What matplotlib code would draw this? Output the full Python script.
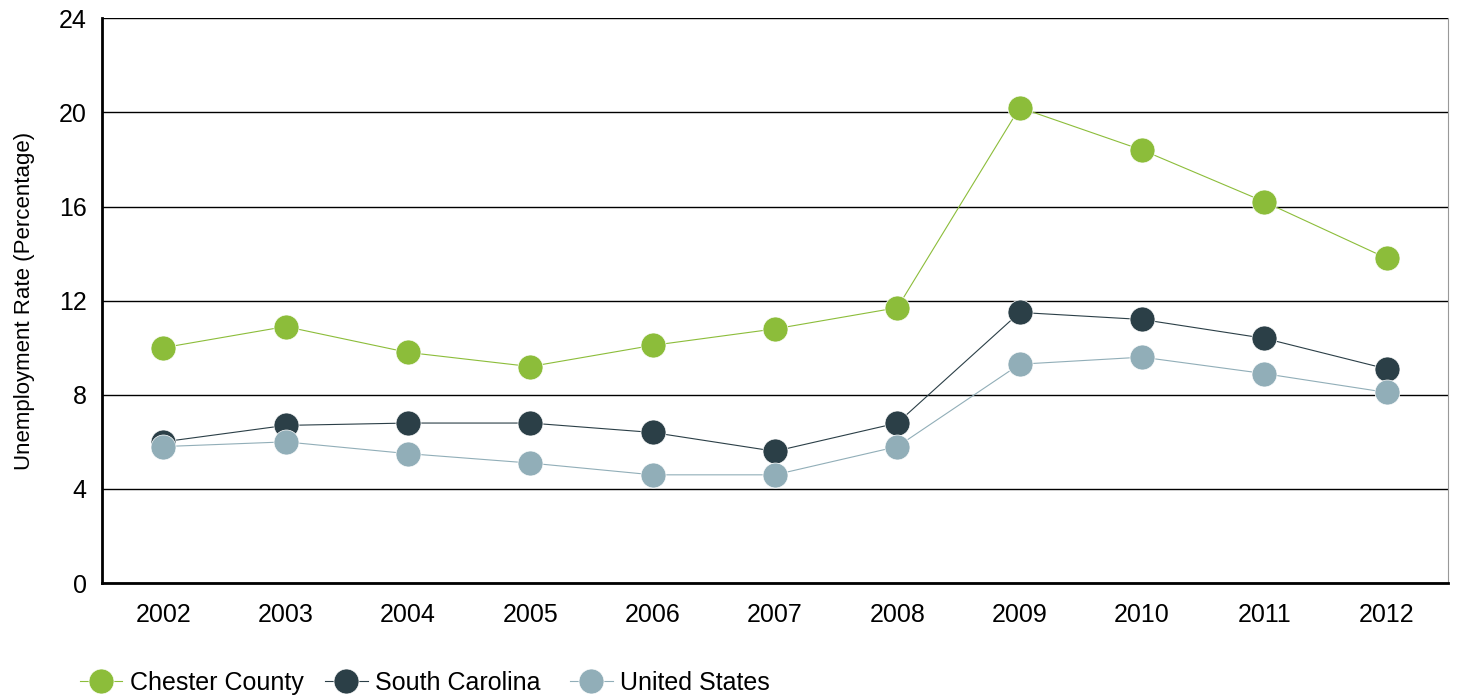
import matplotlib
matplotlib.use("Agg")
import matplotlib.pyplot as plt

years = ["2002", "2003", "2004", "2005", "2006", "2007", "2008", "2009", "2010", "2011", "2012"]
chester_county = [10.0, 10.9, 9.8, 9.2, 10.1, 10.8, 11.7, 20.2, 18.4, 16.2, 13.8]
south_carolina = [6.0, 6.7, 6.8, 6.8, 6.4, 5.6, 6.8, 11.5, 11.2, 10.4, 9.1]
united_states = [5.8, 6.0, 5.5, 5.1, 4.6, 4.6, 5.8, 9.3, 9.6, 8.9, 8.1]
y_ticks = [0, 4, 8, 12, 16, 20, 24]

plt.rcParams["font.family"] = ["Liberation Sans", "DejaVu Sans"]

fig = plt.figure(figsize=(14.57, 7.0), dpi=100)
ax = fig.add_axes([0.070, 0.167, 0.9238, 0.807])

x = list(range(len(years)))
series = [
    ("Chester County", chester_county, "#8cbd3a"),
    ("South Carolina", south_carolina, "#2b3f47"),
    ("United States", united_states, "#91aeb8"),
]
handles = []
for label, values, color in series:
    (line,) = ax.plot(x, values, color=color, linewidth=0.8, marker="o", markersize=18,
                      markerfacecolor=color, markeredgecolor="white", markeredgewidth=0.5,
                      label=label, zorder=3)
    handles.append(line)

ax.set_xlim(-0.5, len(years) - 0.5)
ax.set_ylim(0, 24)
ax.set_yticks(y_ticks)
ax.set_xticks(x)
ax.set_xticklabels(years)
ax.yaxis.grid(True, color="black", linewidth=1.0)
ax.set_axisbelow(True)
ax.tick_params(axis="both", length=0, labelsize=18)
ax.tick_params(axis="x", pad=14)
ax.tick_params(axis="y", pad=11)

ax.spines["left"].set_linewidth(2.0)
ax.spines["bottom"].set_linewidth(2.0)
ax.spines["top"].set_visible(False)
ax.spines["right"].set_color("#999999")
ax.spines["right"].set_linewidth(0.8)

ax.set_ylabel("Unemployment Rate (Percentage)", fontsize=16, labelpad=17)

# legend entries sit at a fixed spacing, so one small legend per series
for i, h in enumerate(handles):
    fig.legend(handles=[h], labels=[h.get_label()], loc="center left",
               bbox_to_anchor=(0.0549 + i * 0.1682, 0.0243), frameon=False,
               fontsize=18, handlelength=1.7, handletextpad=0.3,
               borderpad=0, borderaxespad=0)

fig.savefig("out.png", dpi=100)
plt.close(fig)
